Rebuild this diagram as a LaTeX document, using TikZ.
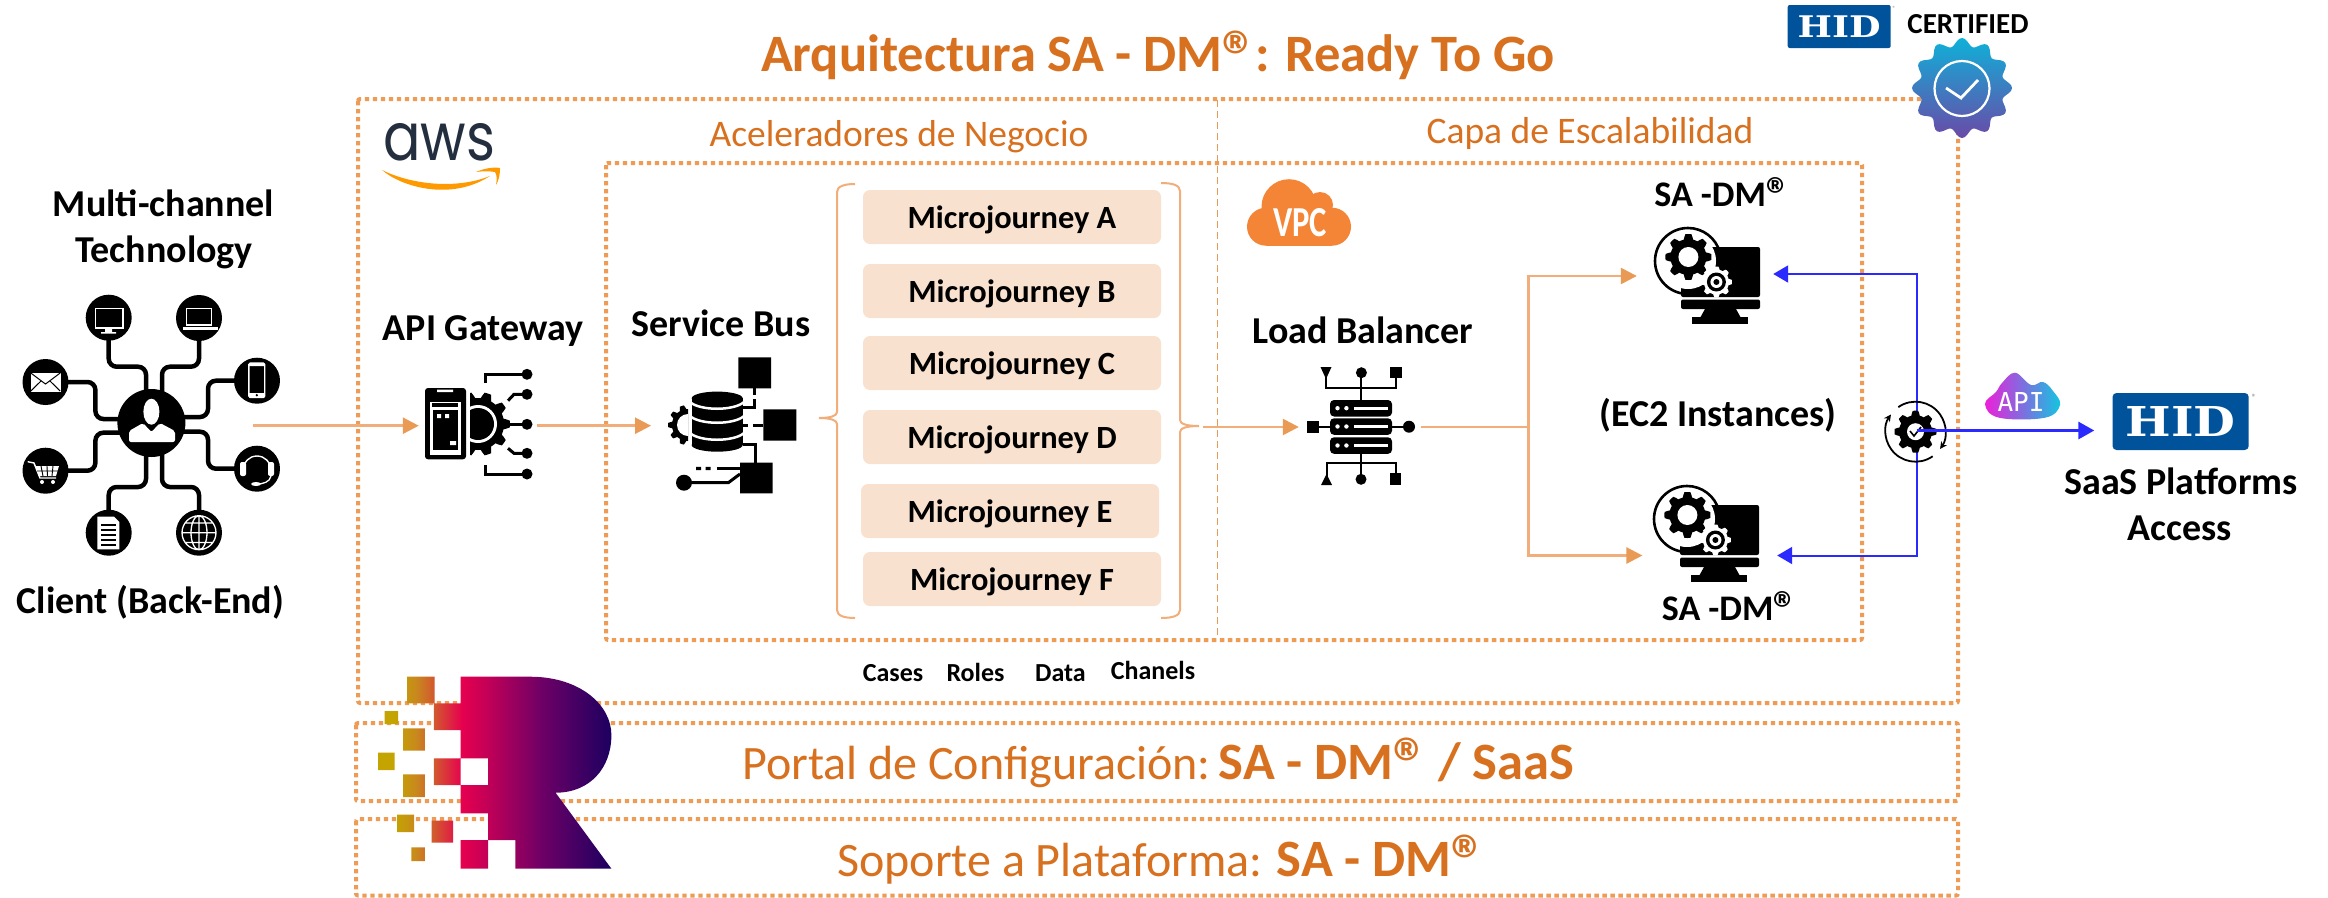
\documentclass[tikz,border=0pt]{standalone}
\usepackage{fontspec}
\setmainfont{Carlito}
\newfontfamily\awsfont{Poppins}
\newfontfamily\hidfont{DejaVu Serif}
\newfontfamily\apifont{DejaVu Sans Mono}
\usetikzlibrary{arrows.meta,calc,backgrounds}
\definecolor{dotor}{HTML}{EE9C55}
\definecolor{lineor}{HTML}{F2AE7A}
\definecolor{heador}{HTML}{E99A55}
\definecolor{textor}{HTML}{D8711F}
\definecolor{peach}{HTML}{F9E1CF}
\definecolor{hidblue}{HTML}{00529B}
\definecolor{vpcor}{HTML}{F58536}
\definecolor{blueline}{HTML}{2A2AFF}
\definecolor{awsnavy}{HTML}{232F3E}
\definecolor{awsor}{HTML}{FF9900}
\definecolor{rA}{HTML}{C4A400}
\definecolor{rB}{HTML}{C88A1C}
\definecolor{rC}{HTML}{D2582E}
\definecolor{rD}{HTML}{E6004F}
\definecolor{rE}{HTML}{BE0058}
\definecolor{rF}{HTML}{6E0066}
\definecolor{rG}{HTML}{1C0060}
\definecolor{badgetop}{HTML}{0FB0D8}
\definecolor{badgebot}{HTML}{6A4AA8}
\definecolor{apiM}{HTML}{EE1FD8}
\definecolor{apiB}{HTML}{7D6FE0}
\definecolor{apiC}{HTML}{10C8E0}
\pgfdeclarehorizontalshading{rlogo}{100bp}{
 color(0bp)=(rA);
 color(28.6bp)=(rA);
 color(33bp)=(rB);
 color(37bp)=(rC);
 color(43bp)=(rD);
 color(49bp)=(rE);
 color(60bp)=(rF);
 color(75bp)=(rG);
 color(100bp)=(rG)}
\newcommand{\fs}[1]{\fontsize{#1}{#1}\selectfont}
\newcommand{\reg}{\raisebox{-0.16em}{\scalebox{1.35}{®}}\kern-0.06em}
\newcommand{\gearfill}[6]{% style cx cy rout rin teeth
 \pgfmathtruncatemacro{\gs}{#6*12+1}%
 \fill[#1] plot[domain=0:360,samples=\gs] ({#2+(#5+(#4-#5)*max(0,min(1,0.5+1.6*cos(#6*\x))))*cos(\x)},{#3+(#5+(#4-#5)*max(0,min(1,0.5+1.6*cos(#6*\x))))*sin(\x)}) -- cycle;}
\newcommand{\sadmicon}{%
 \fill[black,rounded corners=2pt] (0,0) rectangle (79,50);
 \fill[black,rounded corners=2pt] (0,52.5) rectangle (79,62);
 \fill[black] (24,62) -- (55,62) -- (60,71) -- (19,71) -- cycle;
 \fill[black] (11,70) rectangle (67,77);
 \fill[white] (7,14) circle[radius=28];
 \fill[white] (-4,30) rectangle (6,41);
 \draw[black,line width=2.6pt] (7,47) arc[start angle=90,end angle=345,radius=33];
 \fill[black] (36,4) -- (46,4) -- (41,12) -- cycle;
 \gearfill{black}{7.4}{10}{23}{18}{8}
 \fill[white] (7.4,10) circle[radius=10];
 \gearfill{white}{35.4}{35}{15.5}{12.5}{8}
 \fill[black] (35.4,35) circle[radius=9.5];
 \fill[white] (35.4,35) circle[radius=6];
 \fill[black] (35.4,35) circle[radius=3];}
\tikzset{
 x=1pt,y=-1pt,
 dotbox/.style={draw=dotor,line width=4pt,dash pattern=on 4.3pt off 3.7pt,rounded corners=2pt},
 thindash/.style={draw=heador,line width=1.2pt,dash pattern=on 7pt off 4pt},
 title/.style={anchor=base,inner sep=0pt,text=textor,font=\bfseries\fs{52.5}},
 sub/.style={anchor=base,inner sep=0pt,text=textor,font=\fs{37.5}},
 band/.style={anchor=base west,inner sep=0pt,text=textor,font=\fs{48}},
 lab/.style={anchor=base,inner sep=0pt,text=black,font=\bfseries\fs{38}},
 sadm/.style={anchor=base,inner sep=0pt,text=black,font=\bfseries\fs{36}},
 tiny/.style={anchor=base,inner sep=0pt,text=black,font=\bfseries\fs{26}},
 journey/.style={fill=peach,rounded corners=7pt,minimum width=298pt,minimum height=54pt,inner sep=0pt,text height=30pt,text depth=8pt,font=\bfseries\fs{32.4},text=black},
 hole/.style={inner sep=0pt,minimum height=10pt},
 brace/.style={draw=lineor,line width=2pt},
 orarrow/.style={draw=lineor,line width=2.5pt,-{Triangle[length=16pt,width=16pt,color=heador]}},
 orline/.style={draw=lineor,line width=2.5pt},
 bluearrow/.style={draw=blueline,line width=2pt,-{Triangle[length=15pt,width=17pt,color=blueline]}},
 wire/.style={draw=black,line width=4.5pt,rounded corners=8pt},
 sat/.style={circle,fill=black,minimum size=46pt,inner sep=0pt},
 thin black/.style={draw=black,line width=3pt},
 wht/.style={draw=white,line width=1.4pt},
}
\begin{document}
\begin{tikzpicture}
\useasboundingbox (0,0) rectangle (2328,897);
\begin{scope}[on background layer]
\fill[white] (0,0) rectangle (2328,897);
\end{scope}
% dotted frames
\path[dotbox] (358,99) rectangle (1958,703);
\path[dotbox] (606,163) rectangle (1862,640);
\path[dotbox] (356,723) rectangle (1958,801);
\path[dotbox] (356,819) rectangle (1958,895.5);
\path[thindash] (1217.5,100) -- (1217.5,635);
% titles
\node[title] (title) at (1158,71.7) {Arquitectura SA - DM\reg: Ready To Go};
\node[sub] (acel) at (899,146) {Aceleradores de Negocio};
\node[sub] (capa) at (1590,143) {Capa de Escalabilidad};
\node[band] (portal) at (742,779) {Portal de Configuración:\,{\fs{52.5}\textbf{SA - DM\reg{} / SaaS}}};
\node[band] (soporte) at (837,876) {Soporte a Plataforma: {\fs{52.5}\textbf{SA - DM\reg}}};
% labels
\node[lab] (mc1) at (163.5,216) {Multi-channel};
\node[lab] (mc2) at (164,262) {Technology};
\node[lab] (cli) at (150.5,613) {Client (Back-End)};
\node[lab] (gwl) at (483,340.7) {API Gateway};
\node[lab] (sbl) at (721,336.7) {Service Bus};
\node[lab] (lbl) at (1363,343) {Load Balancer};
\node[lab] (ec2) at (1718,426.7) {(EC2 Instances)};
\node[sadm] (sd1) at (1721.5,206) {SA -DM\reg};
\node[sadm] (sd2) at (1729,620) {SA -DM\reg};
\node[lab] (saas1) at (2181,494) {SaaS Platforms};
\node[lab] (saas2) at (2180,540) {Access};
\node[tiny] (ca) at (893,681) {Cases};
\node[tiny] (ro) at (975.5,681) {Roles};
\node[tiny] (da) at (1060.5,681) {Data};
\node[tiny] (ch) at (1153,679) {Chanels};
% microjourneys
\node[journey] (ja) at (1012,217) {Microjourney A};
\node[journey] (jb) at (1012,291) {Microjourney B};
\node[journey] (jc) at (1012,363) {Microjourney C};
\node[journey] (jd) at (1012,437) {Microjourney D};
\node[journey] (je) at (1010,511) {Microjourney E};
\node[journey] (jf) at (1012,579) {Microjourney F};
% braces
\draw[brace] (855,184) .. controls (845,184) and (837,186) .. (837,192) -- (837,412) .. controls (837,416) and (830,418) .. (819,418) .. controls (830,418) and (837,420) .. (837,424) -- (837,610) .. controls (837,616) and (845,618) .. (855,618);
\draw[brace] (1161,183) .. controls (1172,183) and (1180,185) .. (1180,191) -- (1180,420) .. controls (1180,424) and (1187,426) .. (1199,426) .. controls (1187,426) and (1180,428) .. (1180,432) -- (1180,610) .. controls (1180,616) and (1172,618) .. (1161,618);
% aws
\node[anchor=base west,inner sep=0pt,text=awsnavy] (aws) at (383,160) {\resizebox{112pt}{37pt}{\awsfont aws}};
\fill[awsor] (382,170) .. controls (400,186) and (450,202) .. (490,176) .. controls (455,190) and (410,184) .. (382,170) -- cycle;
\fill[awsor] (476,172) .. controls (485,168) and (494,167) .. (500,168) .. controls (500,174) and (499,180) .. (496,185) .. controls (497,179) and (497,175) .. (495,172) .. controls (489,171) and (483,171) .. (476,172) -- cycle;
% vpc cloud
\fill[vpcor] (1289,206.7) circle[radius=27.5];
\fill[vpcor] (1266,226.7) circle[radius=19];
\fill[vpcor] (1320,205) circle[radius=13];
\fill[vpcor] (1332,226.7) circle[radius=19];
\fill[vpcor] (1266,207) rectangle (1332,245.7);
\node[inner sep=0pt,anchor=base,text=white] (vpc) at (1300,236) {\resizebox{54pt}{28pt}{\bfseries VPC}};
% ---- hub
\node[sat,minimum size=68pt] (hub) at (151.4,423) {};
\node[sat] (smon) at (108.7,317.7) {};
\node[sat] (slap) at (199,318) {};
\node[sat] (smail) at (45.5,382) {};
\node[sat] (sphone) at (257,380.7) {};
\node[sat] (scart) at (45.5,470.7) {};
\node[sat] (shead) at (257,468.7) {};
\node[sat] (sdoc) at (108.7,532.7) {};
\node[sat] (sglobe) at (199,532.7) {};
\begin{scope}[on background layer]
\draw[wire] (smon.center) -- ++(0,49) -| ($(hub.center)+(-5.4,0)$);
\draw[wire] (slap.center) -- ++(0,48.7) -| ($(hub.center)+(10.6,0)$);
\draw[wire] (smail.center) -| ($(hub.center)+(-56,-4)$) -- ($(hub.center)+(0,-4)$);
\draw[wire] (sphone.center) -| ($(hub.center)+(56.6,-6)$) -- ($(hub.center)+(0,-6)$);
\draw[wire] (scart.center) -| ($(hub.center)+(-56,9.7)$) -- ($(hub.center)+(0,9.7)$);
\draw[wire] (shead.center) -| ($(hub.center)+(56.6,8.7)$) -- ($(hub.center)+(0,8.7)$);
\draw[wire] (sdoc.center) -- ++(0,-45.7) -| ($(hub.center)+(-5.4,0)$);
\draw[wire] (sglobe.center) -- ++(0,-45.7) -| ($(hub.center)+(10.6,0)$);
\end{scope}
% person
\fill[white] (151.4,411.7) ellipse[x radius=8,y radius=13];
\fill[white,rounded corners=2pt] (129,442) -- (129,431) -- (143,423) -- (151.4,432) -- (160,423) -- (175,431) -- (175,442) -- cycle;
% monitor glyph
\draw[wht,fill=black] (95.5,308.3) rectangle (122.9,328);
\fill[white] (105,329) rectangle (112,332) (101,332) rectangle (116,333.5);
% laptop glyph
\draw[wht,fill=black] (186.5,308.5) rectangle (211.5,325);
\fill[white] (182.7,327) rectangle (217.5,330);
% mail glyph
\draw[white,fill=white] (30.8,373) rectangle (60.2,391);
\draw[black,line width=1pt] (30.8,373) -- (45.5,384) -- (60.2,373) (30.8,391) -- (41,381) (60.2,391) -- (50,381);
% phone glyph
\draw[wht,rounded corners=1.5pt] (248.8,363) rectangle (264.7,397.5);
\fill[white] (249,393) rectangle (264.5,397.5) (249,363) rectangle (264.5,366);
\fill[black] (256.8,395.2) circle[radius=1.3];
% cart glyph
\draw[white,line width=1.4pt] (27.7,461.7) -- (34,463) -- (40,478) -- (56,478);
\fill[white] (35,466) -- (59,466) -- (56,476) -- (39,476) -- cycle;
\draw[black,line width=.9pt] (41,466) -- (43,476) (47,466) -- (47.5,476) (53,466) -- (52,476) (37,471) -- (58,471);
\fill[white] (42,482) circle[radius=2] (53,482) circle[radius=2];
% headset glyph
\draw[white,line width=1.4pt] (243,470) arc[start angle=180,end angle=360,radius=14];
\fill[white,rounded corners=2pt] (240,462) rectangle (246,476) (268,462) rectangle (274,476);
\draw[white,line width=1.3pt] (271,476) .. controls (270,482) and (263,484) .. (257,484);
\fill[white] (256,484) ellipse[x radius=5,y radius=2];
% doc glyph
\fill[white] (97.3,516.7) -- (114,516.7) -- (119.4,522) -- (119.4,549.3) -- (97.3,549.3) -- cycle;
\draw[black,line width=1.2pt] (101,525) -- (116,525) (101,530) -- (116,530) (101,535) -- (116,535) (101,540) -- (116,540) (101,545) -- (116,545);
% globe glyph
\draw[white,line width=1.3pt] (199,532.7) circle[radius=17] (199,532.7) ellipse[x radius=8,y radius=17] (199,515.7) -- (199,549.7) (182,532.7) -- (216,532.7) (185,523) -- (213,523) (185,542.4) -- (213,542.4);
% ---- API gateway icon
\fill[black,rounded corners=3pt] (425,388) rectangle (466,459.3);
\fill[white] (430,401.7) rectangle (460.6,455);
\fill[black] (433,410) rectangle (458,450);
\fill[black] (432,403) rectangle (458,406.5);
\fill[white] (437,389.5) rectangle (453,392) (437,414) rectangle (441,418) (445,414) rectangle (449,418) (450,441) rectangle (456,445);
\begin{scope}
\clip (470,380) rectangle (520,470);
\gearfill{black}{478}{424}{32}{26}{10}
\fill[white] (478,424) circle[radius=19];
\fill[black] (478,424) circle[radius=16];
\end{scope}
\draw[thin black] (485.6,383) -- (485.6,374.3) -- (527,374.3);
\draw[thin black] (508,400.7) -- (514,394.3) -- (527,394.3);
\draw[thin black] (506,424.3) -- (527,424.3);
\draw[thin black] (508,448.3) -- (514,453.3) -- (527,453.3);
\draw[thin black] (485.6,465) -- (485.6,474) -- (527,474);
\fill[black] (527,374.3) circle[radius=5.5] (527,394.3) circle[radius=5.5] (527,424.3) circle[radius=5.5] (527,453.3) circle[radius=5.5] (527,474) circle[radius=5.5];
% ---- service bus icon
\begin{scope}
\clip (660,400) rectangle (688,450);
\gearfill{black}{688}{425}{20}{16}{10}
\fill[white] (688,425) circle[radius=11];
\end{scope}
\fill[black] (691.7,398.3) rectangle (742.7,445);
\fill[black] (717.2,398.3) ellipse[x radius=25.5,y radius=6.7];
\fill[black] (717.2,445) ellipse[x radius=25.5,y radius=6.7];
\draw[white,line width=2.5pt] (690,402) .. controls (700,411) and (734,411) .. (744,402) (690,416) .. controls (700,425) and (734,425) .. (744,416) (690,433) .. controls (700,442) and (734,442) .. (744,433);
\fill[black] (738.3,357.3) rectangle (771,388.3) (763.3,409.3) rectangle (796.3,440.7) (740,462.7) rectangle (772.7,493.3);
\draw[thin black] (754.3,388.3) -- (754.3,395) (754.3,399) -- (754.3,407.3) -- (742.7,407.3);
\draw[thin black] (753,425) -- (763.3,425) (742.7,425) -- (748.3,425);
\draw[thin black] (742.7,444) -- (755,444) -- (755,462.7);
\draw[thin black] (716.7,468.3) -- (740,468.3);
\fill[black] (696,466.8) rectangle (701,470) (705.7,466.8) rectangle (710.7,470);
\fill[black] (684,482.7) circle[radius=8];
\draw[thin black] (684,482.7) -- (728.3,482.7) -- (740,474);
% ---- load balancer icon
\foreach \ry in {400,418.3,437.3}{
 \fill[black,rounded corners=4pt] (1330,\ry) rectangle (1392,\ry+16.5);
 \fill[white] (1337.5,\ry+8.2) circle[radius=2.2] (1346.4,\ry+8.2) circle[radius=2.2];
 \fill[white] (1353.6,\ry+7) rectangle (1387.5,\ry+9.5);
}
\fill[black] (1307,420.7) rectangle (1319,433.3);
\draw[black,line width=2.5pt] (1319,427) -- (1330,427) (1392,427) -- (1409,427);
\fill[black] (1409,426.7) circle[radius=6];
\draw[black,line width=2pt] (1361.4,373) -- (1361.4,400) (1326,372) -- (1326,388) -- (1396.4,388) -- (1396.4,372);
\fill[black] (1361.4,372.7) circle[radius=5.5];
\fill[black] (1320.5,367) -- (1331.5,367) -- (1326,379) -- cycle;
\fill[black] (1390,367) rectangle (1401.8,378);
\draw[black,line width=2pt] (1361.4,454) -- (1361.4,478) (1326.6,478) -- (1326.6,463.3) -- (1396,463.3) -- (1396,478);
\fill[black] (1321,485) -- (1332,485) -- (1326.6,474) -- cycle;
\fill[black] (1361,479.3) circle[radius=5.5];
\fill[black] (1390,473.3) rectangle (1401,485);
% sa-dm icons
\begin{scope}[shift={(1681,247)}]\sadmicon\end{scope}
\begin{scope}[shift={(1680,505)}]\sadmicon\end{scope}
% anchor nodes
\coordinate (clientout) at (253,425.7);
\node[hole,minimum width=118pt] (gw) at (478,425.7) {};
\coordinate (sbusin) at (651,425.7);
\coordinate (braceout) at (1203,427);
\node[hole,minimum width=122pt] (lb) at (1360,427) {};
\coordinate (split) at (1528.6,427);
\node[hole,minimum width=136pt] (sadmA) at (1705,275) {};
\node[hole,minimum width=134.4pt] (sadmB) at (1709.8,555.5) {};
\node[hole,minimum width=2pt,minimum height=2pt] (sync) at (1916.5,430.5) {};
\node[fill=hidblue,rounded corners=4pt,minimum width=136.2pt,minimum height=57pt,inner sep=0pt,text=white] (hid) at (2180.6,421.5) {\resizebox{110pt}{30pt}{\hidfont\bfseries HID}};
\node[anchor=center,inner sep=0pt,text=gray,font=\fs{9}] (hidr) at (2254,397) {®};
% connectors
\draw[orarrow] (clientout) -- (gw.west);
\draw[orarrow] (gw.east) -- (sbusin);
\draw[orarrow] (braceout) -- (lb.west);
\draw[orline] (lb.east) -- (split);
\draw[orarrow] (split) |- ([yshift=-1pt]sadmA.west);
\draw[orarrow] (split) |- (sadmB.west);
\draw[bluearrow] (sync.center) |- ([yshift=1pt]sadmA.east);
\draw[bluearrow] (sync.center) |- (sadmB.east);
% sync icon
\draw[black,line width=1.8pt,-{Stealth[length=7pt,width=7pt]}] (1915.5,431.7) ++(235:30) arc[start angle=235,end angle=395,radius=30];
\draw[black,line width=1.8pt,-{Stealth[length=7pt,width=7pt]}] (1915.5,431.7) ++(55:30) arc[start angle=55,end angle=215,radius=30];
\gearfill{black}{1915.5}{431.7}{21}{16.5}{8}
\fill[white] (1915.5,431.7) circle[radius=8.5];
\draw[black,line width=1.6pt] (1910,431) -- (1914,436) -- (1921,427);
\draw[blueline,line width=3pt,-{Triangle[length=16pt,width=17pt,color=blueline]},shorten >=18pt] (sync.center) -- (sync.center -| hid.west);
% api cloud
\path[left color=apiM,right color=apiC,middle color=apiB] plot[smooth cycle,tension=.65] coordinates {(1999,417.7) (2045,417.7) (2060,405) (2053,391) (2043,382) (2031,385) (2015,372.7) (2002,383) (1996,392) (1985,404)};
\node[inner sep=0pt,text=white] (apit) at (2021,402) {\resizebox{47pt}{19pt}{\apifont API}};
% small HID + certified
\node[fill=hidblue,rounded corners=2pt,minimum width=103pt,minimum height=43pt,inner sep=0pt,text=white] (hidsmall) at (1839.2,26.5) {\resizebox{83pt}{21.7pt}{\hidfont\bfseries HID}};
\node[anchor=center,inner sep=0pt,text=gray,font=\fs{6}] (hidsr) at (1894,8) {®};
\node[anchor=base,inner sep=0pt,text=black,font=\bfseries\fs{29}] (cert) at (1968,33) {CERTIFIED};
% badge
\path[top color=badgetop,bottom color=badgebot] plot[domain=0:360,samples=121] ({1962+(46+4*cos(12*\x))*cos(\x)},{88+(46+4*cos(12*\x))*sin(\x)}) -- cycle;
\draw[white,line width=2.2pt] (1962,88.5) circle[radius=27.5];
\draw[white,line width=2.8pt] (1946,88) -- (1961,98) -- (1978,80);
% R logo
\path[shading=rlogo] (460.5,676.7) -- (530,676.7) .. controls (580,676.7) and (611.4,705) .. (611.4,735) .. controls (611.4,768) and (590,792.7) .. (555.6,792.7) -- (611.4,868.7) -- (515.4,868.7) -- (515.4,840) -- (488,840) -- (488,813.3) -- (460.5,813.3) -- (460.5,785) -- (488,785) -- (488,758.3) -- (460.5,758.3) -- (460.5,730) -- (433.75,730) -- (433.75,703.3) -- (460.5,703.3) -- cycle
 (433.75,758.3) rectangle (460.5,785)
 (460.5,840) rectangle (488,868.7)
 (407,676.7) rectangle (434.6,703.3)
 (384.6,711) rectangle (398,724)
 (403,728.3) rectangle (424.8,750.7)
 (378,752.7) rectangle (394.5,770)
 (403,774.3) rectangle (424.8,797)
 (397,814.7) rectangle (414,832)
 (431.5,820.7) rectangle (453,842.7)
 (411.4,847.3) rectangle (424.8,861);
\end{tikzpicture}
\end{document}
